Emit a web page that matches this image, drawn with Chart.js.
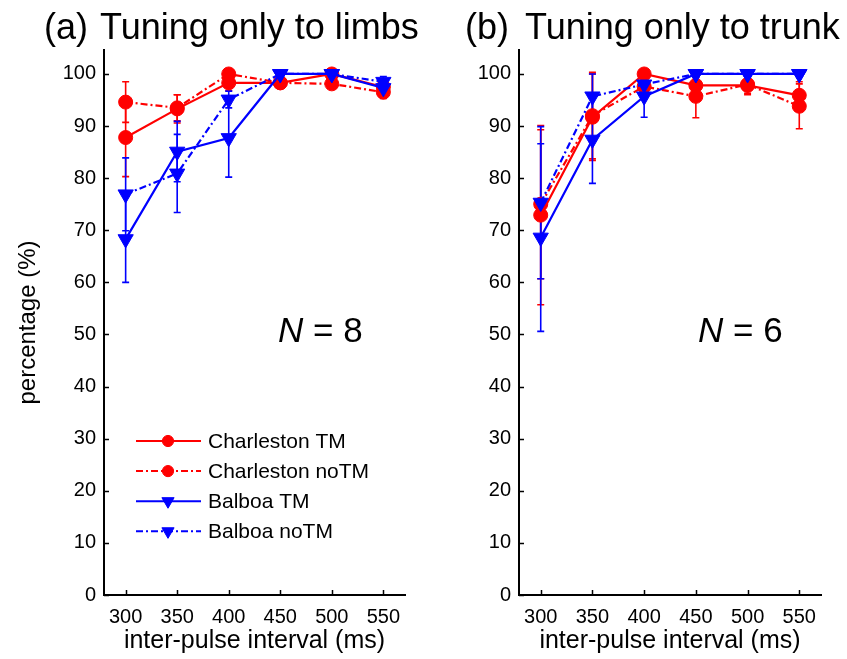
<!DOCTYPE html>
<html>
<head>
<meta charset="utf-8">
<script src="https://cdn.jsdelivr.net/npm/chart.js@4"></script>
<style>
  html, body { margin: 0; padding: 0; background: #fff; }
  #wrap { position: relative; width: 847px; height: 659px; }
  .panel { position: absolute; top: 0; height: 659px; }
</style>
</head>
<body>
<div id="wrap">
  <div class="panel" style="left:0;width:423px"><canvas id="limbs"></canvas></div>
  <div class="panel" style="left:423px;width:424px"><canvas id="trunk"></canvas></div>
</div>
<script>
// inter-pulse interval (ms)
const intervals = [300, 350, 400, 450, 500, 550];
const xTicks = [300, 350, 400, 450, 500, 550];
const yTicks = [0, 10, 20, 30, 40, 50, 60, 70, 80, 90, 100];
const seriesNames = ['Charleston TM', 'Charleston noTM', 'Balboa TM', 'Balboa noTM'];

// (a) tuning only to limbs, N = 8
const limbsCharlestonTM = [87.8, 93.3, 98.3, 98.3, 100, 97.5];
const limbsCharlestonTMErr = [7.5, 2.7, 1.5, 0.5, 0.3, 1.2];
const limbsCharlestonNoTM = [94.6, 93.5, 100, 98.3, 98.1, 96.5];
const limbsCharlestonNoTMErr = [3.9, 2.5, 0.5, 0.5, 0.5, 1.2];
const limbsBalboaTM = [68.3, 85.1, 87.7, 100, 100, 97.3];
const limbsBalboaTMErr = [8.3, 5.8, 7.5, 0, 0, 1.5];
const limbsBalboaNoTM = [76.9, 80.9, 95.1, 100, 100, 98.5];
const limbsBalboaNoTMErr = [7, 7.5, 1.6, 0, 0, 1];

// (b) tuning only to trunk, N = 6
const trunkCharlestonTM = [72.9, 91.7, 100, 97.8, 97.8, 95.9];
const trunkCharlestonTMErr = [17.2, 8.3, 0.5, 1.5, 1.5, 2.6];
const trunkCharlestonNoTM = [75, 92, 97.6, 95.7, 98, 93.8];
const trunkCharlestonNoTMErr = [14.3, 8.3, 1, 4.1, 2, 4.3];
const trunkBalboaTM = [68.6, 87.4, 95.7, 100, 100, 100];
const trunkBalboaTMErr = [18, 8.4, 4, 0, 0, 0];
const trunkBalboaNoTM = [75.3, 95.7, 98, 100, 100, 100];
const trunkBalboaNoTMErr = [14.6, 4.3, 1.5, 0, 0, 0];

const FONT = '"Liberation Sans", Arial, Helvetica, sans-serif';
const RED = '#ff0000';
const BLUE = '#0000ff';
const DASHDOT = [7, 3, 2, 3];

Chart.defaults.font.family = FONT;
Chart.defaults.color = '#000';

function series(label, values, errors, color, dashed, tri, order) {
  return {
    label: label,
    data: intervals.map((x, i) => ({ x: x, y: values[i] })),
    errors: errors,
    borderColor: color,
    backgroundColor: color,
    borderWidth: 2.2,
    borderDash: dashed ? DASHDOT : [],
    pointStyle: tri ? 'triangle' : 'circle',
    pointRotation: tri ? 180 : 0,
    pointRadius: tri ? 8.8 : 7,
    pointBorderWidth: 1,
    tension: 0,
    order: order
  };
}

// error bars, drawn under the lines
const errorBars = {
  id: 'errorBars',
  beforeDatasetsDraw(chart) {
    const ctx = chart.ctx;
    const y = chart.scales.y;
    chart.data.datasets.forEach((ds, di) => {
      const meta = chart.getDatasetMeta(di);
      ctx.save();
      ctx.strokeStyle = ds.borderColor;
      ctx.lineWidth = 1.6;
      meta.data.forEach((pt, i) => {
        const e = ds.errors[i];
        if (!e) return;
        const v = ds.data[i].y;
        const top = y.getPixelForValue(v + e);
        const bot = y.getPixelForValue(v - e);
        ctx.beginPath();
        ctx.moveTo(pt.x, top); ctx.lineTo(pt.x, bot);
        ctx.moveTo(pt.x - 3.5, top); ctx.lineTo(pt.x + 3.5, top);
        ctx.moveTo(pt.x - 3.5, bot); ctx.lineTo(pt.x + 3.5, bot);
        ctx.stroke();
      });
      ctx.restore();
    });
  }
};

// inward tick marks
const innerTicks = {
  id: 'innerTicks',
  afterDraw(chart) {
    const { ctx, chartArea, scales } = chart;
    ctx.save();
    ctx.strokeStyle = '#000';
    ctx.lineWidth = 1.5;
    ctx.beginPath();
    scales.x.ticks.forEach(t => {
      const px = Math.round(scales.x.getPixelForValue(t.value)) + 0.5;
      ctx.moveTo(px, chartArea.bottom); ctx.lineTo(px, chartArea.bottom - 5);
    });
    scales.y.ticks.forEach(t => {
      const py = Math.round(scales.y.getPixelForValue(t.value)) + 0.5;
      ctx.moveTo(chartArea.left, py); ctx.lineTo(chartArea.left + 5, py);
    });
    ctx.stroke();
    ctx.restore();
  }
};

// panel tag, title and N label
const panelText = {
  id: 'panelText',
  afterDraw(chart, args, opts) {
    const { ctx, chartArea } = chart;
    ctx.save();
    ctx.fillStyle = '#000';
    ctx.textBaseline = 'alphabetic';
    ctx.textAlign = 'left';
    ctx.font = '36px ' + FONT;
    ctx.fillText(opts.tag, opts.tagX, 39);
    ctx.fillText(opts.title, opts.titleX, 39);
    const nx = chartArea.left + opts.nDx;
    ctx.font = 'italic 35px ' + FONT;
    ctx.fillText('N', nx, 342);
    const w = ctx.measureText('N').width;
    ctx.font = '35px ' + FONT;
    ctx.fillText(' = ' + opts.n, nx + w, 342);
    ctx.restore();
  }
};

// line + marker legend inside the plot
const lineLegend = {
  id: 'lineLegend',
  afterDraw(chart, args, opts) {
    if (!opts.show) return;
    const ctx = chart.ctx;
    chart.data.datasets.forEach((ds, i) => {
      const y = opts.y + i * opts.gap;
      ctx.save();
      ctx.strokeStyle = ds.borderColor;
      ctx.lineWidth = 2;
      ctx.setLineDash(ds.borderDash);
      ctx.beginPath();
      ctx.moveTo(opts.x, y); ctx.lineTo(opts.x + 65, y);
      ctx.stroke();
      ctx.setLineDash([]);
      ctx.fillStyle = ds.backgroundColor;
      ctx.lineWidth = 1;
      Chart.helpers.drawPoint(ctx, {
        pointStyle: ds.pointStyle, rotation: ds.pointRotation,
        radius: ds.pointRadius * 0.8, borderWidth: 1
      }, opts.x + 32, y);
      ctx.fillStyle = '#000';
      ctx.font = '21px ' + FONT;
      ctx.textBaseline = 'middle';
      ctx.fillText(ds.label, opts.x + 72, y + 1);
      ctx.restore();
    });
  }
};

function makeChart(id, sets, text, yWidth, padRight, yTitle, legendOpts) {
  return new Chart(document.getElementById(id), {
    type: 'line',
    data: {
      datasets: [
        series(seriesNames[0], sets[0], sets[1], RED, false, false, 4),
        series(seriesNames[1], sets[2], sets[3], RED, true, false, 3),
        series(seriesNames[2], sets[4], sets[5], BLUE, false, true, 1),
        series(seriesNames[3], sets[6], sets[7], BLUE, true, true, 2)
      ]
    },
    options: {
      responsive: true,
      maintainAspectRatio: false,
      animation: false,
      layout: { padding: { left: 0, right: padRight, top: 50, bottom: 0 } },
      plugins: {
        legend: { display: false },
        tooltip: { enabled: false },
        panelText: text,
        lineLegend: legendOpts
      },
      scales: {
        x: {
          type: 'linear',
          min: 279,
          max: 571,
          afterBuildTicks: s => { s.ticks = xTicks.map(v => ({ value: v })); },
          afterFit: s => { s.height = 64; },
          grid: { display: false, drawTicks: false },
          border: { display: true, color: '#000', width: 2 },
          ticks: { color: '#000', font: { size: 20 }, padding: 10, autoSkip: false, maxRotation: 0 },
          title: { display: true, text: 'inter-pulse interval (ms)', color: '#000', font: { size: 25 }, padding: { top: 0, bottom: 3 } }
        },
        y: {
          min: 0,
          max: 104.6,
          afterBuildTicks: s => { s.ticks = yTicks.map(v => ({ value: v })); },
          afterFit: s => { s.width = yWidth; },
          grid: { display: false, drawTicks: false },
          border: { display: true, color: '#000', width: 2 },
          ticks: { color: '#000', font: { size: 20 }, padding: 8 },
          title: { display: yTitle, text: 'percentage (%)', color: '#000', font: { size: 24 }, padding: { top: 14, bottom: 0 } }
        }
      }
    },
    plugins: [errorBars, innerTicks, panelText, lineLegend]
  });
}

makeChart('limbs',
  [limbsCharlestonTM, limbsCharlestonTMErr, limbsCharlestonNoTM, limbsCharlestonNoTMErr,
   limbsBalboaTM, limbsBalboaTMErr, limbsBalboaNoTM, limbsBalboaNoTMErr],
  { tag: '(a)', tagX: 44, title: 'Tuning only to limbs', titleX: 100, n: 8, nDx: 174 },
  104, 18, true,
  { show: true, x: 136, y: 441, gap: 30.1 });

makeChart('trunk',
  [trunkCharlestonTM, trunkCharlestonTMErr, trunkCharlestonNoTM, trunkCharlestonNoTMErr,
   trunkBalboaTM, trunkBalboaTMErr, trunkBalboaNoTM, trunkBalboaNoTMErr],
  { tag: '(b)', tagX: 42, title: 'Tuning only to trunk', titleX: 102, n: 6, nDx: 179 },
  96, 26, false,
  { show: false });
</script>
</body>
</html>
